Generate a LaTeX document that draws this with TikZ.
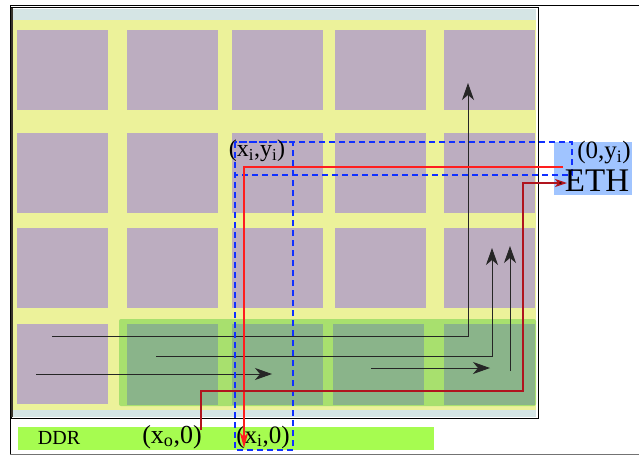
\documentclass[tikz,border=0pt]{standalone}
\usepackage{fontspec}
\setmainfont{Liberation Serif}
\usetikzlibrary{arrows.meta}
\definecolor{chipyellow}{HTML}{ECF29A}
\definecolor{tilepurple}{HTML}{BCADC0}
\definecolor{stripgrey}{HTML}{D5E5E5}
\definecolor{regiongreen}{HTML}{A8E06E}
\definecolor{tilegreen}{HTML}{8AB48A}
\definecolor{ddrgreen}{HTML}{A6FC50}
\definecolor{ethblue}{HTML}{A0C4FF}
\definecolor{dashblue}{HTML}{1030FF}
\definecolor{brightred}{HTML}{FF1E1E}
\definecolor{darkred}{HTML}{B0141E}
\begin{document}
\begin{tikzpicture}[x=1pt,y=-1pt,
  tilep/.style={fill=tilepurple,draw=none},
  tileg/.style={fill=tilegreen,draw=none},
  flow/.style={draw=black!85,line width=0.9pt,-{Stealth[length=17pt,width=12pt,inset=5pt]}},
  bluedash/.style={draw=dashblue,line width=1.4pt,dash pattern=on 6pt off 4pt},
  lbl/.style={inner sep=0pt}
]
\useasboundingbox (0,0) rectangle (639,456);
% outer frame
\draw[line width=0.8pt] (639,5) -- (10,5) -- (10,454);
\draw[line width=1pt,black!55] (10,454) -- (639,454);
% chip
\fill[stripgrey] (13,9) rectangle (536,417);
\fill[chipyellow] (13,20) rectangle (536,410);
\fill[regiongreen,rounded corners=2pt] (119,319) rectangle (536,406);
\foreach \x in {17,127,232,335,444}{
  \foreach \y in {30,133,228}{
    \fill[tilep] (\x,\y) rectangle ++(91,80);
  }
}
\fill[tilep] (17,324) rectangle ++(91,80);
\foreach \x in {127,232,333,444}{
  \fill[tileg] (\x,324) rectangle ++(91,81);
}
\draw[line width=1pt] (11,7) rectangle (538,418);
\draw[line width=2pt,black!80!olive] (12,8) -- (12,417);
% DDR bar
\node[fill=ddrgreen,minimum width=416pt,minimum height=23pt,inner sep=0pt,anchor=north west] (ddr) at (18,427) {};
\node[lbl,font=\fontsize{20}{20}\selectfont] (ddrtxt) at (59,438) {DDR};
\node[lbl,font=\fontsize{26}{26}\selectfont] (xo) at (172,437) {(x\textsubscript{o},0)};
\node[lbl,font=\fontsize{25}{25}\selectfont] (xi) at (263,437) {(x\textsubscript{i},0)};
% ETH box
\node[fill=ethblue,minimum width=78pt,minimum height=53pt,inner sep=0pt] (eth) at (593,168.5) {};
% black flows
\coordinate (a1s) at (52,336); \coordinate (a1c) at (468,336); \coordinate (a1e) at (468,83);
\draw[flow] (a1s) -- (a1c) -- (a1e);
\coordinate (a2s) at (156,356); \coordinate (a2c) at (492,356); \coordinate (a2e) at (492,248);
\draw[flow] (a2s) -- (a2c) -- (a2e);
\coordinate (a3s) at (36,374); \coordinate (a3e) at (272,374);
\draw[flow] (a3s) -- (a3e);
\coordinate (a4s) at (371,368); \coordinate (a4e) at (490,368);
\draw[flow] (a4s) -- (a4e);
\coordinate (a5s) at (510,371); \coordinate (a5e) at (510,246);
\draw[flow] (a5s) -- (a5e);
% blue dashed regions
\draw[bluedash] (235,142) rectangle (293,450);
\draw[bluedash] (235,142) rectangle (572,175);
% red flows
\coordinate (r1s) at (563,167); \coordinate (r1c) at (244,167); \coordinate (r1e) at (244,448);
\draw[brightred,line width=1.6pt,-{Stealth[length=15pt,width=8pt,inset=4pt]}] (r1s) -- (r1c) -- (r1e);
\coordinate (r2s) at (201,430); \coordinate (r2c) at (201,391); \coordinate (r2d) at (523,391);
\coordinate (r2f) at (523,183); \coordinate (r2e) at (567,183);
\draw[darkred,line width=1.4pt,-{Stealth[length=12pt,width=8pt,inset=3pt,fill=black]}] (r2s) -- (r2c) -- (r2d) -- (r2f) -- (r2e);
% labels
\node[lbl,font=\fontsize{24}{24}\selectfont] (xiyi) at (257,151) {(x\textsubscript{i},y\textsubscript{i})};
\node[lbl,font=\fontsize{25}{25}\selectfont] (zyi) at (604,153) {(0,y\textsubscript{i})};
\node[lbl,font=\fontsize{33}{33}\selectfont] (ethtxt) at (597,181) {ETH};
\end{tikzpicture}
\end{document}
